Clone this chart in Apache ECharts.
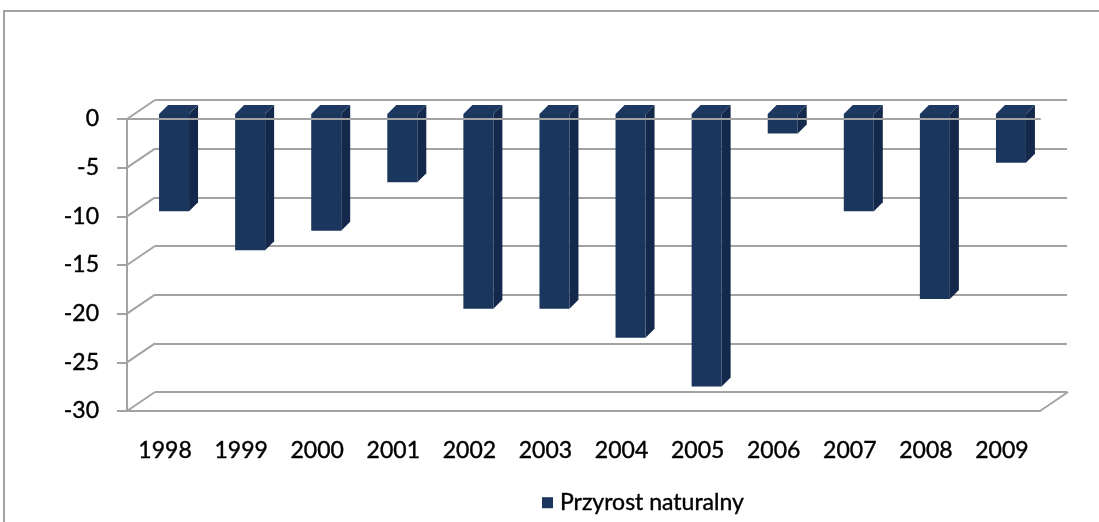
<!DOCTYPE html>
<html>
<head>
<meta charset="utf-8">
<script src="https://cdn.jsdelivr.net/npm/echarts@6/dist/echarts.min.js"></script>
<style>
  html, body { margin: 0; padding: 0; background: #fff; }
  #chart { width: 1099px; height: 522px; }
</style>
</head>
<body>
<div id="chart"></div>
<script>
// dane wykresu
const years = ['1998', '1999', '2000', '2001', '2002', '2003', '2004', '2005', '2006', '2007', '2008', '2009']
const przyrost = [-10, -14, -12, -7, -20, -20, -23, -28, -2, -10, -19, -5]
const yTicks = [0, -5, -10, -15, -20, -25, -30]
const seriesName = 'Przyrost naturalny'

const gray = '#a3a3a3'
const depth = [28, -19] // przesuniecie tylnej sciany
const barDepth = [9, -9]
const font = { fontSize: 23, color: '#000', fontFamily: 'Lato', textBorderColor: '#000', textBorderWidth: 0.4 }

const chart = echarts.init(document.getElementById('chart'))

function renderBar (params, api) {
  const idx = api.value(0)
  const val = api.value(1)
  const p0 = api.coord([idx, 0])
  const p1 = api.coord([idx, val])
  const w = 30
  const left = p0[0] - 6
  const right = left + w
  const top = p0[1] - 5
  const bottom = p1[1] - 5
  const dx = barDepth[0]
  const dy = barDepth[1]
  return {
    type: 'group',
    children: [
      {
        type: 'polygon',
        shape: { points: [[right, top], [right + dx, top + dy], [right + dx, bottom + dy], [right, bottom]] },
        style: { fill: '#13284a' }
      },
      {
        type: 'polygon',
        shape: { points: [[left, top], [left + dx, top + dy], [right + dx, top + dy], [right, top]] },
        style: { fill: '#1d3962' }
      },
      {
        type: 'rect',
        shape: { x: left, y: top, width: w, height: bottom - top },
        style: { fill: '#1b365d' }
      }
    ]
  }
}

function renderWall (params, api) {
  const v = api.value(0)
  const half = api.size([1, 0])[0] / 2
  const p = api.coord([0, v])
  const x0 = p[0] - half
  const children = [{
    type: 'line',
    shape: { x1: x0, y1: p[1], x2: x0 + depth[0], y2: p[1] + depth[1] },
    style: { stroke: gray, lineWidth: 2 }
  }]
  if (v === yTicks[yTicks.length - 1]) {
    const q = api.coord([years.length - 1, v])
    const x1 = q[0] + half
    children.push({
      type: 'line',
      shape: { x1: x1, y1: q[1], x2: x1 + depth[0], y2: q[1] + depth[1] },
      style: { stroke: gray, lineWidth: 2 }
    })
  }
  return { type: 'group', children: children }
}

chart.setOption({
  backgroundColor: '#fff',
  animation: false,
  textStyle: { fontFamily: 'Lato' },
  graphic: [{
    type: 'rect',
    shape: { x: 4, y: 11, width: 1200, height: 600 },
    style: { fill: 'none', stroke: gray, lineWidth: 2 },
    z: -1
  }],
  legend: {
    data: [seriesName],
    left: 537,
    top: 486,
    itemWidth: 11,
    itemHeight: 11,
    icon: 'rect',
    textStyle: Object.assign({ padding: [0, 0, 0, 2] }, font)
  },
  grid: [
    { left: 127, right: 59, top: 119, bottom: 111 },
    { left: 155, right: 32, top: 100, bottom: 130 }
  ],
  xAxis: [
    {
      gridIndex: 0,
      type: 'category',
      data: years,
      position: 'bottom',
      axisLine: { onZero: false, lineStyle: { color: gray, width: 2 } },
      axisTick: { show: false },
      axisLabel: Object.assign({ margin: 28 }, font)
    },
    {
      gridIndex: 0,
      type: 'category',
      data: years,
      position: 'top',
      z: 10,
      axisLine: { onZero: false, lineStyle: { color: gray, width: 2 } },
      axisTick: { inside: true, length: 7, lineStyle: { color: gray, width: 2 } },
      axisLabel: { show: false }
    },
    {
      gridIndex: 1,
      type: 'category',
      data: years,
      axisLine: { show: false },
      axisTick: { show: false },
      axisLabel: { show: false }
    }
  ],
  yAxis: [
    {
      gridIndex: 0,
      type: 'value',
      min: -30,
      max: 0,
      interval: 5,
      axisLine: { show: true, lineStyle: { color: gray, width: 2 } },
      axisTick: { show: true, length: 10, lineStyle: { color: gray, width: 2 } },
      axisLabel: Object.assign({ margin: 28 }, font),
      splitLine: { show: false }
    },
    {
      gridIndex: 1,
      type: 'value',
      min: -30,
      max: 0,
      interval: 5,
      axisLine: { show: false },
      axisTick: { show: false },
      axisLabel: { show: false },
      splitLine: { show: true, lineStyle: { color: gray, width: 2 } }
    }
  ],
  series: [
    {
      name: 'sciany',
      type: 'custom',
      xAxisIndex: 0,
      yAxisIndex: 0,
      silent: true,
      renderItem: renderWall,
      data: yTicks.map(v => [v]),
      encode: { y: 0 },
      z: 1
    },
    {
      name: seriesName,
      type: 'custom',
      xAxisIndex: 0,
      yAxisIndex: 0,
      itemStyle: { color: '#1b365d' },
      renderItem: renderBar,
      data: przyrost.map((v, i) => [i, v]),
      encode: { x: 0, y: 1 },
      z: 2
    }
  ]
})
</script>
</body>
</html>
